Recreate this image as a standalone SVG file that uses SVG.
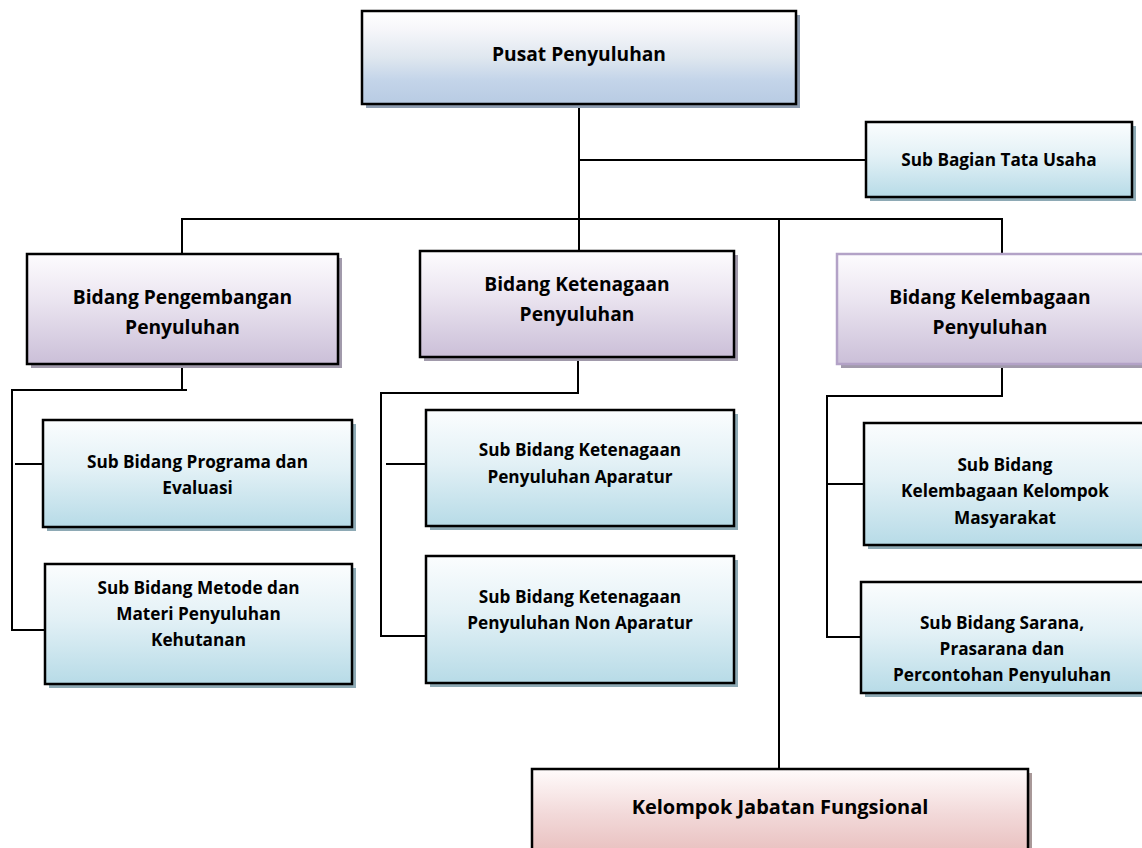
<svg xmlns="http://www.w3.org/2000/svg" width="1142" height="848" viewBox="0 0 1142 848">
<defs>
<linearGradient id="gBlue" x1="0" y1="0" x2="0" y2="1">
<stop offset="0" stop-color="#ffffff"/><stop offset="0.2" stop-color="#f6f6fa"/><stop offset="0.5" stop-color="#dfe7ef"/><stop offset="0.75" stop-color="#c3d4e9"/><stop offset="1" stop-color="#b8cbe3"/>
</linearGradient>
<linearGradient id="gCyan" x1="0" y1="0" x2="0" y2="1">
<stop offset="0" stop-color="#fbfdfe"/><stop offset="0.45" stop-color="#e3f1f6"/><stop offset="1" stop-color="#b7dbe7"/>
</linearGradient>
<linearGradient id="gPurple" x1="0" y1="0" x2="0" y2="1">
<stop offset="0" stop-color="#fdfcfe"/><stop offset="0.4" stop-color="#ece6f1"/><stop offset="1" stop-color="#cbbfd8"/>
</linearGradient>
<linearGradient id="gPink" x1="0" y1="0" x2="0" y2="1">
<stop offset="0" stop-color="#fffbfb"/><stop offset="0.45" stop-color="#f2d9d9"/><stop offset="1" stop-color="#e5b6b5"/>
</linearGradient>
<clipPath id="clipSarana"><rect x="861" y="582" width="290" height="101"/></clipPath>
</defs>
<style>
.box{stroke:#000;stroke-width:2.5}
.blue{fill:url(#gBlue)}
.cyan{fill:url(#gCyan)}
.purple{fill:url(#gPurple)}
.pink{fill:url(#gPink)}
.shB{fill:#8e9db1}
.shC{fill:#8eaab5}
.shP{fill:#a19aab}
.shK{fill:#a89898}
.lav{stroke:#b3a2c7;stroke-width:2.5}
text{font-family:"Open Sans","DejaVu Sans",sans-serif;font-weight:bold;fill:#000;text-anchor:middle}
.h{font-size:19.2px}
.s{font-size:17.2px}
.k{font-size:20px}
.conn line{stroke:#000;stroke-width:2;fill:none}
</style>
<rect width="1142" height="848" fill="#ffffff"/>
<g class="conn" id="connectors">
<line x1="579" y1="104" x2="579" y2="251"/>
<line x1="579" y1="160" x2="866" y2="160"/>
<line x1="181" y1="219" x2="1003" y2="219"/>
<line x1="182" y1="219" x2="182" y2="254"/>
<line x1="779" y1="219" x2="779" y2="769"/>
<line x1="1002" y1="219" x2="1002" y2="264"/>
<line x1="182" y1="364" x2="182" y2="390"/>
<line x1="11" y1="390" x2="187" y2="390"/>
<line x1="12" y1="390" x2="12" y2="631"/>
<line x1="15" y1="464" x2="43" y2="464"/>
<line x1="12" y1="630" x2="48" y2="630"/>
<line x1="578" y1="357" x2="578" y2="393"/>
<line x1="380" y1="393" x2="579" y2="393"/>
<line x1="381" y1="393" x2="381" y2="637"/>
<line x1="386" y1="464" x2="426" y2="464"/>
<line x1="380" y1="636" x2="426" y2="636"/>
<line x1="1002" y1="364" x2="1002" y2="396"/>
<line x1="826" y1="396" x2="1003" y2="396"/>
<line x1="827" y1="396" x2="827" y2="638"/>
<line x1="827" y1="484" x2="864" y2="484"/>
<line x1="827" y1="637" x2="861" y2="637"/>
</g>
<g id="pusat">
<rect class="shB" x="366" y="15" width="434" height="93"/>
<rect class="box blue" x="362" y="11" width="434" height="93"/>
<text class="h" x="579" y="61">Pusat Penyuluhan</text>
</g>
<g id="tata-usaha">
<rect class="shC" x="870" y="126" width="266" height="75"/>
<rect class="box cyan" x="866" y="122" width="266" height="75"/>
<text class="s" x="999" y="166">Sub Bagian Tata Usaha</text>
</g>
<g id="bidang-pengembangan">
<rect class="shP" x="31" y="258" width="311" height="110"/>
<rect class="box purple" x="27" y="254" width="311" height="110"/>
<text class="h" x="182.5" y="304">Bidang Pengembangan</text>
<text class="h" x="182.5" y="334">Penyuluhan</text>
</g>
<g id="bidang-ketenagaan">
<rect class="shP" x="424" y="255" width="314" height="106"/>
<rect class="box purple" x="420" y="251" width="314" height="106"/>
<text class="h" x="577" y="291">Bidang Ketenagaan</text>
<text class="h" x="577" y="321">Penyuluhan</text>
</g>
<g id="bidang-kelembagaan">
<rect class="shP" x="841" y="258" width="310" height="110"/>
<rect class="lav purple" x="837" y="254" width="310" height="110"/>
<text class="h" x="990" y="304">Bidang Kelembagaan</text>
<text class="h" x="990" y="334">Penyuluhan</text>
</g>
<g id="sub-programa">
<rect class="shC" x="47" y="424" width="309" height="107"/>
<rect class="box cyan" x="43" y="420" width="309" height="107"/>
<text class="s" x="197.5" y="468">Sub Bidang Programa dan</text>
<text class="s" x="197.5" y="494">Evaluasi</text>
</g>
<g id="sub-metode">
<rect class="shC" x="49" y="568" width="307" height="120"/>
<rect class="box cyan" x="45" y="564" width="307" height="120"/>
<text class="s" x="198.5" y="594">Sub Bidang Metode dan</text>
<text class="s" x="198.5" y="620">Materi Penyuluhan</text>
<text class="s" x="198.5" y="646">Kehutanan</text>
</g>
<g id="sub-aparatur">
<rect class="shC" x="430" y="414" width="308" height="116"/>
<rect class="box cyan" x="426" y="410" width="308" height="116"/>
<text class="s" x="580" y="456">Sub Bidang Ketenagaan</text>
<text class="s" x="580" y="483">Penyuluhan Aparatur</text>
</g>
<g id="sub-non-aparatur">
<rect class="shC" x="430" y="560" width="308" height="127"/>
<rect class="box cyan" x="426" y="556" width="308" height="127"/>
<text class="s" x="580" y="603">Sub Bidang Ketenagaan</text>
<text class="s" x="580" y="629">Penyuluhan Non Aparatur</text>
</g>
<g id="sub-kelembagaan">
<rect class="shC" x="868" y="427" width="290" height="122"/>
<rect class="box cyan" x="864" y="423" width="290" height="122"/>
<text class="s" x="1005" y="471">Sub Bidang</text>
<text class="s" x="1005" y="497">Kelembagaan Kelompok</text>
<text class="s" x="1005" y="524">Masyarakat</text>
</g>
<g id="sub-sarana">
<rect class="shC" x="865" y="586" width="290" height="111"/>
<rect class="box cyan" x="861" y="582" width="290" height="111"/>
<g clip-path="url(#clipSarana)">
<text class="s" x="1002" y="629">Sub Bidang Sarana,</text>
<text class="s" x="1002" y="655">Prasarana dan</text>
<text class="s" x="1002" y="681">Percontohan Penyuluhan</text>
</g>
</g>
<g id="kelompok-jabatan">
<rect class="shK" x="536" y="773" width="496" height="100"/>
<rect class="box pink" x="532" y="769" width="496" height="100"/>
<text class="k" x="780" y="814">Kelompok Jabatan Fungsional</text>
</g>
</svg>
